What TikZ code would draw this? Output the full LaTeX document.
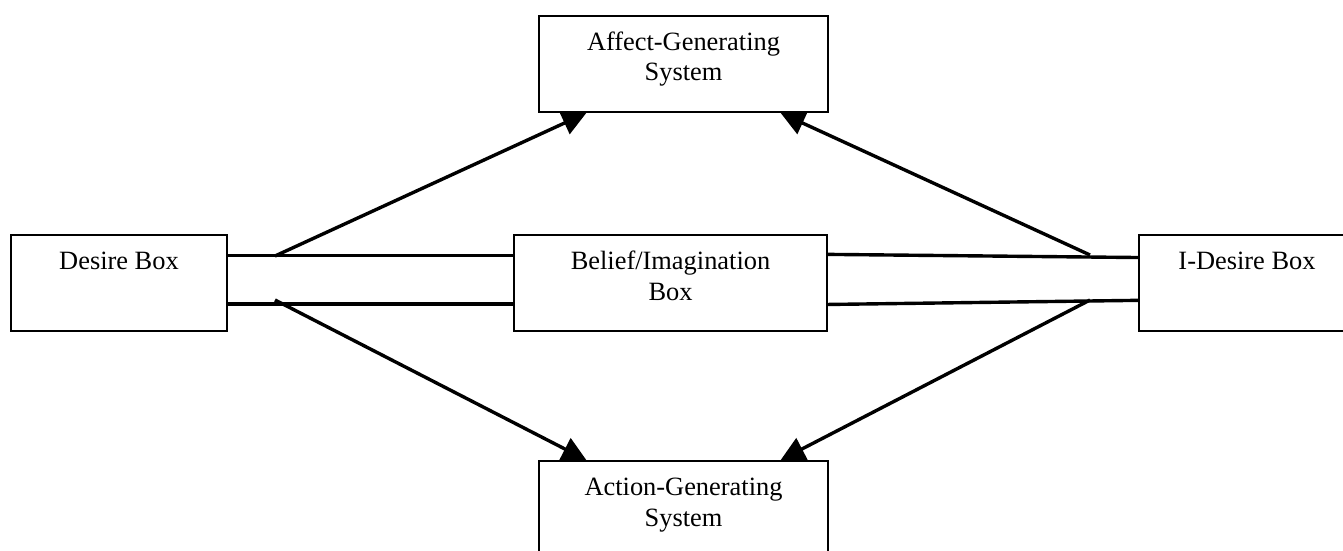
\documentclass[tikz,border=0pt]{standalone}
\usepackage{fontspec}
\setmainfont{Liberation Serif}
\usetikzlibrary{arrows.meta,calc}
\begin{document}
\begin{tikzpicture}[x=0.5pt,y=-0.5pt,
  box/.style={draw, line width=1pt, fill=white, inner sep=0pt},
  lbl/.style={anchor=base, inner sep=0pt, font=\fontsize{13.2pt}{15.25pt}\selectfont},
  link/.style={line width=1.7pt},
  arr/.style={line width=1.7pt, -{Triangle[length=12pt,width=12pt]}}]
\useasboundingbox (0,0) rectangle (1343,551);
% boxes
\node[box, minimum width=144.5pt, minimum height=48pt] (affect) at (683.5,64) {};
\node[box, minimum width=108pt, minimum height=48pt] (desire) at (119,283) {};
\node[box, minimum width=156.5pt, minimum height=48pt] (belief) at (670.5,283) {};
\node[box, minimum width=108pt, minimum height=48pt] (idesire) at (1247,283) {};
\node[box, minimum width=144.5pt, minimum height=48pt] (action) at (683.5,509) {};
% texts
\node[lbl] (affectA) at (683.5,50.5) {Affect-Generating};
\node[lbl] (affectB) at (683.5,81) {System};
\node[lbl] (desireT) at (119,269) {Desire Box};
\node[lbl] (beliefA) at (670.5,269) {Belief/Imagination};
\node[lbl] (beliefB) at (670.5,300) {Box};
\node[lbl] (idesireT) at (1247,269) {I-Desire Box};
\node[lbl] (actionA) at (683.5,495.5) {Action-Generating};
\node[lbl] (actionB) at (683.5,526) {System};
% horizontal links
\draw[link] ($(desire.north east)!0.219!(desire.south east)$) -- ($(belief.north west)!0.219!(belief.south west)$);
\draw[link] ($(desire.north east)!0.714!(desire.south east)$) -- ($(belief.north west)!0.714!(belief.south west)$);
\draw[link] ($(belief.north east)!0.208!(belief.south east)$) -- ($(idesire.north west)!0.24!(idesire.south west)$);
\draw[link] ($(belief.north east)!0.719!(belief.south east)$) -- ($(idesire.north west)!0.677!(idesire.south west)$);
% arrow start points
\coordinate (s1) at (275,256);
\coordinate (s2) at (1090,255);
\coordinate (s3) at (275,300);
\coordinate (s4) at (1090,300);
% arrows
\draw[arr] (s1) -- ($(affect.south west)!0.166!(affect.south east)$);
\draw[arr] (s2) -- ($(affect.south west)!0.834!(affect.south east)$);
\draw[arr] (s3) -- ($(action.north west)!0.166!(action.north east)$);
\draw[arr] (s4) -- ($(action.north west)!0.834!(action.north east)$);
\end{tikzpicture}
\end{document}
